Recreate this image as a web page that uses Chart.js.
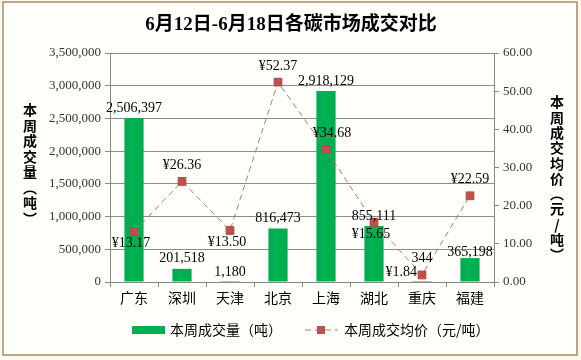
<!DOCTYPE html>
<html>
<head>
<meta charset="utf-8">
<script src="https://cdn.jsdelivr.net/npm/chart.js@4.4.0/dist/chart.umd.min.js"></script>
<style>
  html, body { margin: 0; padding: 0; background: #fdf9ee; }
  #wrap { width: 581px; height: 360px; position: relative; }
</style>
</head>
<body>
<div id="wrap"><canvas id="tradeChart" width="581" height="360"></canvas></div>
<script>
// Data
const markets = ['广东', '深圳', '天津', '北京', '上海', '湖北', '重庆', '福建'];
const volumes = [2506397, 201518, 1180, 816473, 2918129, 855111, 344, 365198];
const prices = [13.17, 26.36, 13.50, 52.37, 34.68, 15.65, 1.84, 22.59];

const chartTitle = '6月12日-6月18日各碳市场成交对比';
const volumeLabel = '本周成交量（吨）';
const priceLabel = '本周成交均价（元/吨）';
const leftTitleChars = ['本', '周', '成', '交', '量', '︵', '吨', '︶'];
const rightTitleChars = ['本', '周', '成', '交', '均', '价', '︵', '元', '/', '吨', '︶'];

const SERIF = '"Liberation Serif", "Times New Roman", serif';
const CJK = '"Noto Sans CJK SC", sans-serif';

// where each price label sits relative to its marker
const priceLabelPos = ['below', 'above', 'below', 'above', 'aboveRight', 'below', 'left', 'above'];

function fmtInt(v) {
    return Math.round(v).toString().replace(/\B(?=(\d{3})+(?!\d))/g, ',');
}

const decorations = {
    id: 'decorations',
    beforeDraw(chart) {
        const c = chart.ctx;
        c.save();
        c.fillStyle = '#fffffc';
        c.fillRect(3, 2, 574, 353);
        c.strokeStyle = '#a88a62';
        c.lineWidth = 1.5;
        c.strokeRect(3, 2, 574, 353);
        c.restore();
    },
    afterDatasetsDraw(chart) {
        const c = chart.ctx;
        const x = chart.scales.x;
        const y = chart.scales.y;
        const y1 = chart.scales.y1;
        c.save();

        // title
        c.fillStyle = '#000';
        c.font = 'bold 19px ' + SERIF + ', ' + CJK;
        c.textAlign = 'center';
        c.textBaseline = 'middle';
        c.fillText(chartTitle, 291, 25);

        // vertical axis titles
        c.font = 'bold 14px ' + CJK;
        leftTitleChars.forEach((ch, i) => c.fillText(ch, 30, 110 + i * 15.5));
        rightTitleChars.forEach((ch, i) => c.fillText(ch, 557, 102 + i * 15.3));

        // bar value labels
        c.font = '14px ' + SERIF;
        c.fillStyle = '#000';
        volumes.forEach((v, i) => {
            const px = x.getPixelForValue(i);
            let py = y.getPixelForValue(v) - 10;
            if (i === 6) py -= 14;
            if (i === 7) py += 4;
            c.fillText(fmtInt(v), px, py);
        });

        // price labels
        prices.forEach((p, i) => {
            const px = x.getPixelForValue(i);
            const py = y1.getPixelForValue(p);
            const txt = '¥' + p.toFixed(2);
            const pos = priceLabelPos[i];
            c.textAlign = 'center';
            if (pos === 'below') c.fillText(txt, px - 3, py + 12);
            else if (pos === 'above') c.fillText(txt, px, py - 16);
            else if (pos === 'aboveRight') c.fillText(txt, px + 6, py - 16);
            else if (pos === 'left') { c.textAlign = 'right'; c.fillText(txt, px - 5, py - 3); }
        });

        // legend
        c.textAlign = 'left';
        c.fillStyle = '#00b050';
        c.fillRect(132, 326, 33, 8);
        c.fillStyle = '#000';
        c.font = '14px ' + CJK;
        c.fillText(volumeLabel, 170, 330);

        c.strokeStyle = '#b07a76';
        c.lineWidth = 1;
        c.setLineDash([6, 4]);
        c.beginPath();
        c.moveTo(305, 330);
        c.lineTo(338, 330);
        c.stroke();
        c.setLineDash([]);
        c.fillStyle = '#c0504d';
        c.fillRect(317, 326, 8, 8);
        c.fillStyle = '#000';
        c.fillText(priceLabel, 344, 330);
        c.restore();
    }
};

new Chart(document.getElementById('tradeChart'), {
    data: {
        labels: markets,
        datasets: [
            {
                type: 'line',
                label: priceLabel,
                data: prices,
                yAxisID: 'y1',
                borderColor: '#b07a76',
                borderWidth: 1,
                borderDash: [6, 4],
                pointStyle: 'rect',
                pointRadius: 5.5,
                pointBackgroundColor: '#c0504d',
                pointBorderColor: '#b04a47',
                pointBorderWidth: 1,
                tension: 0,
                order: 1
            },
            {
                type: 'bar',
                label: volumeLabel,
                data: volumes,
                yAxisID: 'y',
                backgroundColor: '#00b050',
                barPercentage: 0.4,
                categoryPercentage: 1,
                order: 2
            }
        ]
    },
    options: {
        responsive: false,
        animation: false,
        layout: { padding: { top: 53, left: 0, right: 0, bottom: 0 } },
        plugins: {
            legend: { display: false },
            tooltip: { enabled: false }
        },
        scales: {
            x: {
                afterFit: s => { s.height = 78; },
                grid: { drawOnChartArea: false, drawTicks: true, tickLength: 5, color: '#888', offset: true },
                border: { color: '#888' },
                ticks: { color: '#000', padding: 2, font: { family: CJK, size: 14 } }
            },
            y: {
                position: 'left',
                min: 0,
                max: 3500000,
                afterFit: s => { s.width = 110; },
                grid: { color: '#8c8c8c', tickLength: 5 },
                border: { color: '#888' },
                ticks: {
                    stepSize: 500000,
                    padding: 4,
                    color: '#333',
                    font: { family: SERIF, size: 13 },
                    callback: v => fmtInt(v)
                }
            },
            y1: {
                position: 'right',
                min: 0,
                max: 60,
                afterFit: s => { s.width = 87; },
                grid: { drawOnChartArea: false, tickLength: 5, color: '#888' },
                border: { color: '#888' },
                ticks: {
                    stepSize: 10,
                    padding: 4,
                    color: '#333',
                    font: { family: SERIF, size: 13 },
                    callback: v => v.toFixed(2)
                }
            }
        }
    },
    plugins: [decorations]
});
</script>
</body>
</html>
